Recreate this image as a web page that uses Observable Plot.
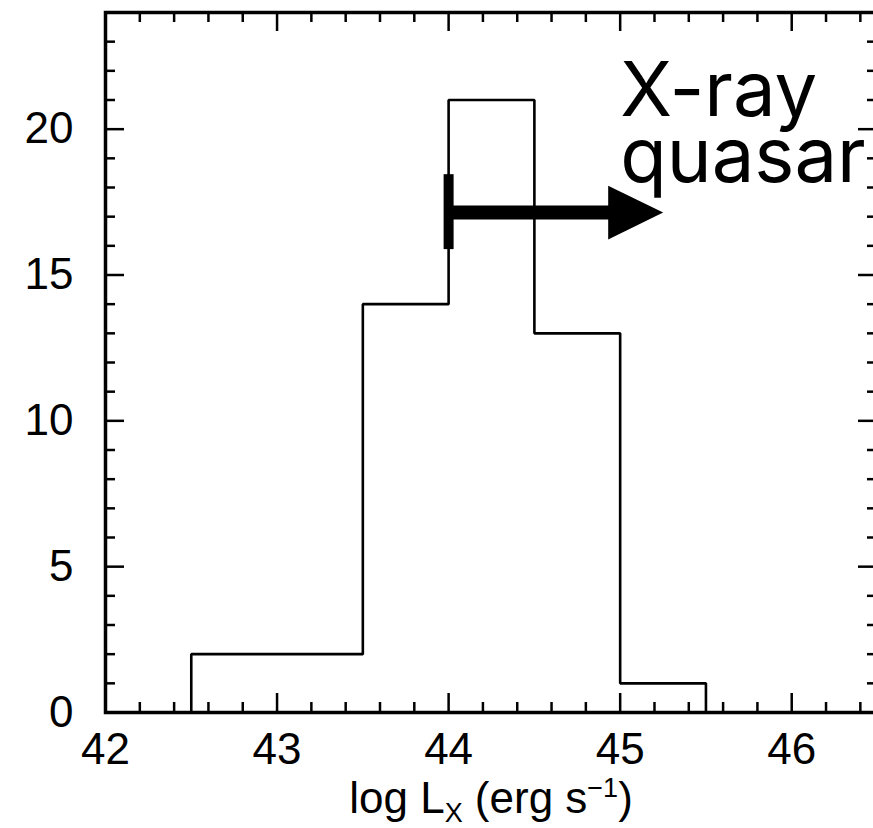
<!DOCTYPE html>
<html>
<head>
<meta charset="utf-8">
<script src="https://cdn.jsdelivr.net/npm/d3@7"></script>
<script src="https://cdn.jsdelivr.net/npm/@observablehq/plot@0.6"></script>
<style>
  html, body { margin: 0; padding: 0; background: #fff; overflow: hidden; }
  #chart { width: 880px; }
</style>
</head>
<body>
<div id="chart"></div>
<script>
// ---- data ----
const binEdges = [42.5, 43.0, 43.5, 44.0, 44.5, 45.0, 45.5];
const counts = [2, 2, 14, 21, 13, 1];

const xTickLabels = [42, 43, 44, 45, 46];
const yTickLabels = [0, 5, 10, 15, 20];

// annotation: "X-ray quasar" threshold arrow
const arrowStart = [44.0];
const arrowHeadBase = [44.93];
const arrowY = [17.14];
const barLow = [15.87];
const barHigh = [18.44];
const labelLines = ["X-ray", "quasar"];
const labelX = [45.0];
const labelY = [22.3];

// ---- layout ----
const W = 880, H = 828;
const mL = 105, mR = 3, mT = 12, mB = 116;
const plotW = W - mL - mR, plotH = H - mT - mB;
const majorLen = 19, minorLen = 10;
const labelFont = 76, labelLineGap = 66;

const xDomain = [42, 46.5];
const yDomain = [0, 24];

const xMinor = d3.range(42, 46.5, 0.2).map(v => +v.toFixed(1)).filter(v => !xTickLabels.includes(v));
const yMinor = d3.range(0, 24, 1).filter(v => !yTickLabels.includes(v));

// histogram outline
const outline = [{x: binEdges[0], y: 0}];
counts.forEach((c, i) => {
  outline.push({x: binEdges[i], y: c});
  outline.push({x: binEdges[i + 1], y: c});
});
outline.push({x: binEdges[binEdges.length - 1], y: 0});

const triangleRight = {
  draw(context, size) {
    const r = Math.sqrt(size / Math.PI);
    context.moveTo(0, -0.98 * r);
    context.lineTo(2 * r, 0);
    context.lineTo(0, 0.98 * r);
    context.closePath();
  }
};

const tickStyle = {stroke: "black", strokeWidth: 2.5};
const fontFam = "'Liberation Sans', Arial, Helvetica, sans-serif";

const chart = Plot.plot({
  width: W, height: H,
  marginLeft: mL, marginRight: mR, marginTop: mT, marginBottom: mB,
  x: {domain: xDomain, axis: null},
  y: {domain: yDomain, axis: null},
  style: {fontFamily: fontFam, background: "white", color: "black"},
  marks: [
    // histogram
    Plot.line(outline, {x: "x", y: "y", stroke: "black", strokeWidth: 2.6, strokeLinejoin: "miter"}),
    // arrow annotation
    Plot.ruleX(arrowStart, {x: d => d, y1: () => barLow[0], y2: () => barHigh[0], stroke: "black", strokeWidth: 10}),
    Plot.link(arrowStart, {x1: d => d, x2: () => arrowHeadBase[0] + 0.02, y1: () => arrowY[0], y2: () => arrowY[0], stroke: "black", strokeWidth: 14}),
    Plot.dot(arrowHeadBase, {x: d => d, y: () => arrowY[0], r: 27.5, symbol: triangleRight, fill: "black", stroke: null}),
    ...labelLines.map((line, i) =>
      Plot.text([line], {x: () => labelX[0], y: () => labelY[0], text: d => d, dy: i * labelLineGap, textAnchor: "start", lineAnchor: "top", fontSize: labelFont, fontFamily: "Inter, 'Open Sans', sans-serif", fill: "black"})
    ),
    // ticks: bottom
    Plot.ruleX(xTickLabels, {x: d => d, insetTop: plotH - majorLen, ...tickStyle}),
    Plot.ruleX(xMinor, {x: d => d, insetTop: plotH - minorLen, ...tickStyle}),
    // ticks: top
    Plot.ruleX(xTickLabels, {x: d => d, insetBottom: plotH - majorLen, ...tickStyle}),
    Plot.ruleX(xMinor, {x: d => d, insetBottom: plotH - minorLen, ...tickStyle}),
    // ticks: left
    Plot.ruleY(yTickLabels, {y: d => d, insetRight: plotW - majorLen, ...tickStyle}),
    Plot.ruleY(yMinor, {y: d => d, insetRight: plotW - minorLen, ...tickStyle}),
    // ticks: right
    Plot.ruleY(yTickLabels, {y: d => d, insetLeft: plotW - majorLen, ...tickStyle}),
    Plot.ruleY(yMinor, {y: d => d, insetLeft: plotW - minorLen, ...tickStyle}),
    // frame
    Plot.frame({stroke: "black", strokeWidth: 3.5}),
    // tick labels
    Plot.text(xTickLabels, {x: d => d, text: d => String(d), frameAnchor: "bottom", lineAnchor: "top", dy: 20, fontSize: 44, fill: "black"}),
    Plot.text(yTickLabels, {y: d => d, text: d => String(d), frameAnchor: "left", textAnchor: "end", lineAnchor: "middle", dx: -32, fontSize: 44, fill: "black"})
  ]
});

document.getElementById("chart").appendChild(chart);

// x-axis title with subscript / superscript
const svg = d3.select(chart.tagName.toLowerCase() === "svg" ? chart : chart.querySelector("svg"));
const title = svg.append("text")
  .attr("x", mL + plotW / 2)
  .attr("y", 813)
  .attr("text-anchor", "middle")
  .attr("font-family", fontFam)
  .attr("font-size", 44)
  .attr("fill", "black");
title.append("tspan").text("log L");
title.append("tspan").attr("font-size", 27).attr("dy", 9).text("X");
title.append("tspan").attr("dy", -9).text(" (erg s");
title.append("tspan").attr("font-size", 27).attr("dy", -16).text("−1");
title.append("tspan").attr("dy", 16).text(")");
</script>
</body>
</html>
